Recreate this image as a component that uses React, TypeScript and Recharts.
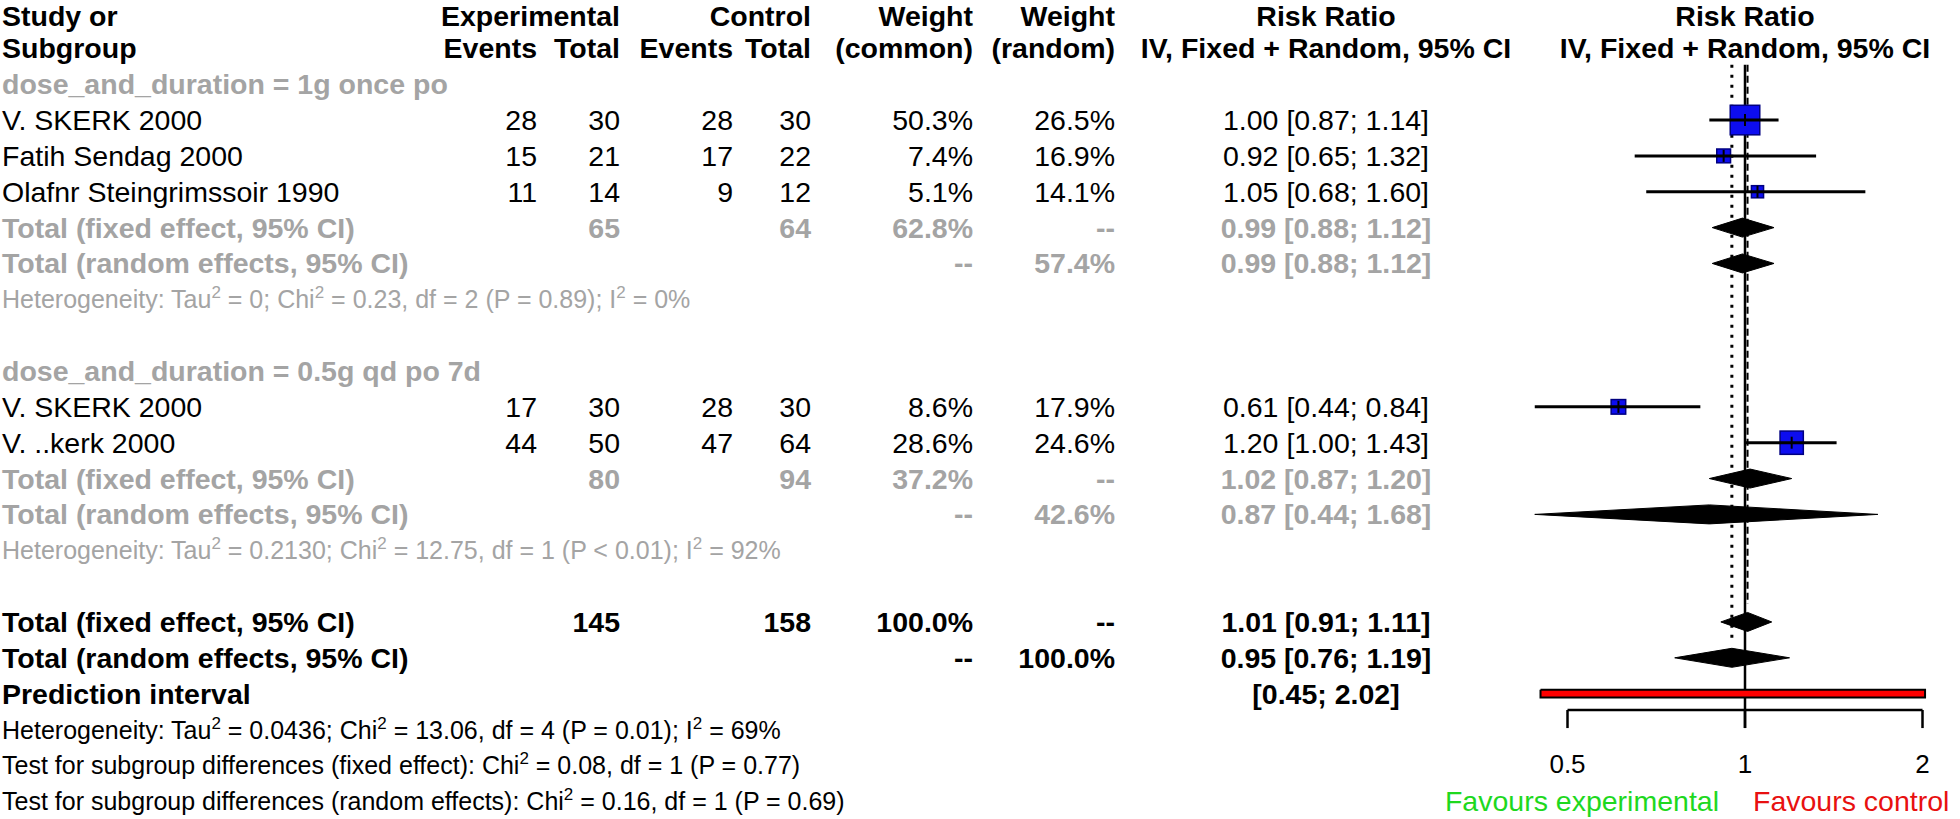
import React from 'react';
import { ScatterChart, Scatter, XAxis, YAxis } from 'recharts';

if (typeof document !== 'undefined') document.body.style.margin = '0';

// ---- study level data ----
const studyNames = ['V. SKERK 2000', 'Fatih Sendag 2000', 'Olafnr Steingrimssoir 1990', 'V. SKERK 2000', 'V. ..kerk 2000'];
const studyGroup = [0, 0, 0, 1, 1];
const expEvents = [28, 15, 11, 17, 44];
const expTotal = [30, 21, 14, 30, 50];
const ctrlEvents = [28, 17, 9, 28, 47];
const ctrlTotal = [30, 22, 12, 30, 64];
const weightCommon = [50.3, 7.4, 5.1, 8.6, 28.6];
const weightRandom = [26.5, 16.9, 14.1, 17.9, 24.6];
const riskRatio = [1.0, 0.92, 1.05, 0.61, 1.2];
const rrLower = [0.87, 0.65, 0.68, 0.44, 1.0];
const rrUpper = [1.14, 1.32, 1.6, 0.84, 1.43];

// ---- subgroup data ----
const subgroupLabels = ['dose_and_duration = 1g once po', 'dose_and_duration = 0.5g qd po 7d'];
const subExpTotal = [65, 80];
const subCtrlTotal = [64, 94];
const subWeightCommon = [62.8, 37.2];
const subWeightRandom = [57.4, 42.6];
const subFixed = [[0.99, 0.88, 1.12], [1.02, 0.87, 1.2]];
const subRandom = [[0.99, 0.88, 1.12], [0.87, 0.44, 1.68]];
const subHeterogeneity = [
  'Heterogeneity: Tau² = 0; Chi² = 0.23, df = 2 (P = 0.89); I² = 0%',
  'Heterogeneity: Tau² = 0.2130; Chi² = 12.75, df = 1 (P < 0.01); I² = 92%',
];

// ---- overall ----
const totalExp = 145;
const totalCtrl = 158;
const overallFixed = [1.01, 0.91, 1.11];
const overallRandom = [0.95, 0.76, 1.19];
const predictionInterval = [0.45, 2.02];
const overallNotes = [
  'Heterogeneity: Tau² = 0.0436; Chi² = 13.06, df = 4 (P = 0.01); I² = 69%',
  'Test for subgroup differences (fixed effect): Chi² = 0.08, df = 1 (P = 0.77)',
  'Test for subgroup differences (random effects): Chi² = 0.16, df = 1 (P = 0.69)',
];
const axisTicks = [0.5, 1, 2];
const favourLabels = ['Favours experimental', 'Favours control'];

// ---- layout ----
const W = 1960;
const H = 819;
const ROW0 = 12.5;
const ROW_H = 35.85;
const PLOT_LEFT = 1380;
const X_ONE = 1745;
const PX_LOG2 = 177.5;
const X_MIN = Math.pow(2, (PLOT_LEFT - X_ONE) / PX_LOG2);
const X_MAX = Math.pow(2, (W - X_ONE) / PX_LOG2);
const Y_MIN = -ROW0 / ROW_H;
const Y_MAX = (H - ROW0) / ROW_H;
const FONT = '"Liberation Sans", Arial, sans-serif';
const FS = 28.5;
const FS_SMALL = 25;
const GREY = '#a4a4a4';
const COL = { expE: 537, expT: 620, ctlE: 733, ctlT: 811, wC: 973, wR: 1115, rr: 1326, plot: 1745 };

const rowY = (i: number) => ROW0 + ROW_H * i;
const fmtCI = (e: number, l: number, h: number) => `${e.toFixed(2)} [${l.toFixed(2)}; ${h.toFixed(2)}]`;
const pct = (v: number) => `${v.toFixed(1)}%`;

type Cell = { x: number; text: string; anchor?: 'start' | 'middle' | 'end' };
type Row = { i: number; cells: Cell[]; bold?: boolean; color?: string; small?: boolean };

// build table rows and forest marks
const rows: Row[] = [];
const squares: { x: number; y: number; w: number }[] = [];
const ciLines: { lo: number; hi: number; y: number }[] = [];
const diamonds: { e: number; lo: number; hi: number; y: number }[] = [];

rows.push({ i: 0, bold: true, cells: [
  { x: 2, text: 'Study or', anchor: 'start' }, { x: COL.expT, text: 'Experimental' }, { x: COL.ctlT, text: 'Control' },
  { x: COL.wC, text: 'Weight' }, { x: COL.wR, text: 'Weight' }, { x: COL.rr, text: 'Risk Ratio', anchor: 'middle' },
  { x: COL.plot, text: 'Risk Ratio', anchor: 'middle' },
] });
rows.push({ i: 1, bold: true, cells: [
  { x: 2, text: 'Subgroup', anchor: 'start' }, { x: COL.expE, text: 'Events' }, { x: COL.expT, text: 'Total' },
  { x: COL.ctlE, text: 'Events' }, { x: COL.ctlT, text: 'Total' }, { x: COL.wC, text: '(common)' }, { x: COL.wR, text: '(random)' },
  { x: COL.rr, text: 'IV, Fixed + Random, 95% CI', anchor: 'middle' }, { x: COL.plot, text: 'IV, Fixed + Random, 95% CI', anchor: 'middle' },
] });

let r = 2;
subgroupLabels.forEach((label, g) => {
  rows.push({ i: r++, bold: true, color: GREY, cells: [{ x: 2, text: label, anchor: 'start' }] });
  studyNames.forEach((name, k) => {
    if (studyGroup[k] !== g) return;
    rows.push({ i: r, cells: [
      { x: 2, text: name, anchor: 'start' }, { x: COL.expE, text: String(expEvents[k]) }, { x: COL.expT, text: String(expTotal[k]) },
      { x: COL.ctlE, text: String(ctrlEvents[k]) }, { x: COL.ctlT, text: String(ctrlTotal[k]) },
      { x: COL.wC, text: pct(weightCommon[k]) }, { x: COL.wR, text: pct(weightRandom[k]) },
      { x: COL.rr, text: fmtCI(riskRatio[k], rrLower[k], rrUpper[k]), anchor: 'middle' },
    ] });
    squares.push({ x: riskRatio[k], y: r, w: weightCommon[k] });
    ciLines.push({ lo: rrLower[k], hi: rrUpper[k], y: r });
    r++;
  });
  const [fe, fl, fh] = subFixed[g];
  rows.push({ i: r, bold: true, color: GREY, cells: [
    { x: 2, text: 'Total (fixed effect, 95% CI)', anchor: 'start' }, { x: COL.expT, text: String(subExpTotal[g]) },
    { x: COL.ctlT, text: String(subCtrlTotal[g]) }, { x: COL.wC, text: pct(subWeightCommon[g]) }, { x: COL.wR, text: '--' },
    { x: COL.rr, text: fmtCI(fe, fl, fh), anchor: 'middle' },
  ] });
  diamonds.push({ e: fe, lo: fl, hi: fh, y: r });
  r++;
  const [re, rl, rh] = subRandom[g];
  rows.push({ i: r, bold: true, color: GREY, cells: [
    { x: 2, text: 'Total (random effects, 95% CI)', anchor: 'start' }, { x: COL.wC, text: '--' },
    { x: COL.wR, text: pct(subWeightRandom[g]) }, { x: COL.rr, text: fmtCI(re, rl, rh), anchor: 'middle' },
  ] });
  diamonds.push({ e: re, lo: rl, hi: rh, y: r });
  r++;
  rows.push({ i: r++, small: true, color: GREY, cells: [{ x: 2, text: subHeterogeneity[g], anchor: 'start' }] });
  r++; // blank
});

const fixedRow = r;
rows.push({ i: r, bold: true, cells: [
  { x: 2, text: 'Total (fixed effect, 95% CI)', anchor: 'start' }, { x: COL.expT, text: String(totalExp) },
  { x: COL.ctlT, text: String(totalCtrl) }, { x: COL.wC, text: '100.0%' }, { x: COL.wR, text: '--' },
  { x: COL.rr, text: fmtCI(overallFixed[0], overallFixed[1], overallFixed[2]), anchor: 'middle' },
] });
diamonds.push({ e: overallFixed[0], lo: overallFixed[1], hi: overallFixed[2], y: r });
r++;
const randomRow = r;
rows.push({ i: r, bold: true, cells: [
  { x: 2, text: 'Total (random effects, 95% CI)', anchor: 'start' }, { x: COL.wC, text: '--' }, { x: COL.wR, text: '100.0%' },
  { x: COL.rr, text: fmtCI(overallRandom[0], overallRandom[1], overallRandom[2]), anchor: 'middle' },
] });
diamonds.push({ e: overallRandom[0], lo: overallRandom[1], hi: overallRandom[2], y: r });
r++;
const predRow = r;
rows.push({ i: r, bold: true, cells: [
  { x: 2, text: 'Prediction interval', anchor: 'start' },
  { x: COL.rr, text: `[${predictionInterval[0].toFixed(2)}; ${predictionInterval[1].toFixed(2)}]`, anchor: 'middle' },
] });
r++;
overallNotes.forEach((t) => rows.push({ i: r++, small: true, cells: [{ x: 2, text: t, anchor: 'start' }] }));

// rows used by the axis area (layout, in row units)
const TOP_ROW = 1.46;
const AXIS_ROW = 19.456;
const TICK_END_ROW = 19.96;
const TICK_LABEL_ROW = 20.96;
const FAVOUR_ROW = 21.99;
const D_HALF = 0.265;
const PI_HALF = 0.11;

// superscript "²" handling
const renderRich = (text: string, fs: number) => {
  const parts = text.split('²');
  const out: React.ReactNode[] = [];
  parts.forEach((p, k) => {
    out.push(<tspan key={`t${k}`} dy={k === 0 ? 0 : 10}>{p}</tspan>);
    if (k < parts.length - 1) out.push(<tspan key={`s${k}`} dy={-10} fontSize={fs * 0.68}>2</tspan>);
  });
  return out;
};

const NoDot = () => null;

const StudySquare = (p: any) => {
  const s = 3.6 * Math.sqrt(p.payload.w) + 4;
  const t = Math.min(s, 12) / 2;
  return (
    <g>
      <rect x={p.cx - s / 2} y={p.cy - s / 2} width={s} height={s} fill="#0d0df0" stroke="#000080" strokeWidth={1.5} />
      <line x1={p.cx} x2={p.cx} y1={p.cy - t} y2={p.cy + t} stroke="#000" strokeWidth={2} />
    </g>
  );
};

const TickLabel = (p: any) => (
  <text x={p.cx} y={p.cy + 9} textAnchor="middle" fontFamily={FONT} fontSize={26} fill="#000">{p.payload.label}</text>
);

const FavourLabel = (p: any) => (
  <g fontFamily={FONT} fontSize={FS}>
    <text x={p.cx - 26} y={p.cy + 10} textAnchor="end" fill="#1ed81e">{favourLabels[0]}</text>
    <text x={p.cx + 8} y={p.cy + 10} textAnchor="start" fill="#e81010">{favourLabels[1]}</text>
  </g>
);

const seg = (key: string, pts: { x: number; y: number }[], style: any) => (
  <Scatter key={key} data={pts} isAnimationActive={false} shape={NoDot} line={style} lineJointType="linear" />
);

export default function App() {
  const diamondPts = (d: { e: number; lo: number; hi: number; y: number }) => [
    { x: d.lo, y: d.y }, { x: d.e, y: d.y - D_HALF }, { x: d.hi, y: d.y }, { x: d.e, y: d.y + D_HALF }, { x: d.lo, y: d.y },
  ];
  const [pl, ph] = predictionInterval;
  return (
    <div style={{ position: 'relative', width: W, height: H, background: '#fff' }}>
      <ScatterChart width={W} height={H} margin={{ top: 0, right: 0, bottom: 0, left: PLOT_LEFT }}>
        <XAxis type="number" dataKey="x" scale="log" domain={[X_MIN, X_MAX]} allowDataOverflow hide />
        <YAxis type="number" dataKey="y" domain={[Y_MIN, Y_MAX]} reversed allowDataOverflow hide />
        {/* reference lines */}
        {seg('ref1', [{ x: 1, y: TOP_ROW }, { x: 1, y: TICK_END_ROW }], { stroke: '#000', strokeWidth: 2.5 })}
        {seg('refFixed', [{ x: overallFixed[0], y: TOP_ROW }, { x: overallFixed[0], y: fixedRow - 0.5 }], { stroke: '#000', strokeWidth: 2, strokeDasharray: '7 4' })}
        {seg('refRandom', [{ x: overallRandom[0], y: TOP_ROW }, { x: overallRandom[0], y: randomRow - 0.5 }], { stroke: '#000', strokeWidth: 3, strokeDasharray: '3 7' })}
        {/* study squares and CIs */}
        <Scatter data={squares} isAnimationActive={false} shape={StudySquare} />
        {ciLines.map((c, k) => seg(`ci${k}`, [{ x: c.lo, y: c.y }, { x: c.hi, y: c.y }], { stroke: '#000', strokeWidth: 3 }))}
        {/* pooled diamonds */}
        {diamonds.map((d, k) => seg(`dm${k}`, diamondPts(d), { fill: '#000', stroke: '#000', strokeWidth: 1 }))}
        {/* prediction interval */}
        {seg('pi', [
          { x: pl, y: predRow - PI_HALF }, { x: ph, y: predRow - PI_HALF }, { x: ph, y: predRow + PI_HALF },
          { x: pl, y: predRow + PI_HALF }, { x: pl, y: predRow - PI_HALF },
        ], { fill: '#ff0000', stroke: '#000', strokeWidth: 2 })}
        {/* axis */}
        {seg('axis', [{ x: axisTicks[0], y: AXIS_ROW }, { x: axisTicks[axisTicks.length - 1], y: AXIS_ROW }], { stroke: '#000', strokeWidth: 2.5 })}
        {axisTicks.map((t) => seg(`tk${t}`, [{ x: t, y: AXIS_ROW }, { x: t, y: TICK_END_ROW }], { stroke: '#000', strokeWidth: 2.5 }))}
        <Scatter data={axisTicks.map((t) => ({ x: t, y: TICK_LABEL_ROW, label: String(t) }))} isAnimationActive={false} shape={TickLabel} />
        <Scatter data={[{ x: 1, y: FAVOUR_ROW }]} isAnimationActive={false} shape={FavourLabel} />
      </ScatterChart>
      <svg width={W} height={H} style={{ position: 'absolute', left: 0, top: 0, pointerEvents: 'none' }}>
        {rows.map((row) => {
          const fs = row.small ? FS_SMALL : FS;
          const y = rowY(row.i) + (row.small ? 9 : 10) + (row.i === 0 ? 3.5 : 0);
          return (
            <g key={row.i} fontFamily={FONT} fontSize={fs} fontWeight={row.bold ? 'bold' : 'normal'} fill={row.color || '#000'}>
              {row.cells.map((c, k) => (
                <text key={k} x={c.x} y={y} textAnchor={c.anchor || 'end'}>{renderRich(c.text, fs)}</text>
              ))}
            </g>
          );
        })}
      </svg>
    </div>
  );
}
